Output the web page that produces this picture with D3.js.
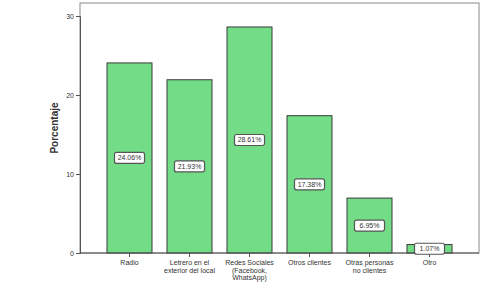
<!DOCTYPE html>
<html>
<head>
<meta charset="UTF-8">
<script src="https://cdn.jsdelivr.net/npm/d3@7"></script>
<style>
  body { margin: 0; background: #fff; }
  text { font-family: "Liberation Sans", Arial, sans-serif; fill: #333; }
</style>
</head>
<body>
<script>
// data
var categories = ["Radio", "Letrero en el|exterior del local", "Redes Sociales|(Facebook,|WhatsApp)",
                  "Otros clientes", "Otras personas|no clientes", "Otro"];
var values = [24.06, 21.93, 28.61, 17.38, 6.95, 1.07];
var valueLabels = ["24.06%", "21.93%", "28.61%", "17.38%", "6.95%", "1.07%"];
var yTicks = [0, 10, 20, 30];

var W = 501, H = 288;
var frame = {left: 80, right: 479, top: 3, bottom: 253};

var svg = d3.select("body").append("svg")
    .attr("width", W)
    .attr("height", H);

var y = d3.scaleLinear()
    .domain([0, 30])
    .range([253, 16]);

var x = d3.scaleBand()
    .domain(categories)
    .range([99.5, 459.5])
    .paddingInner(0.25)
    .paddingOuter(0.125);

// plot frame
svg.append("rect")
    .attr("x", frame.left)
    .attr("y", frame.top)
    .attr("width", frame.right - frame.left)
    .attr("height", frame.bottom - frame.top)
    .attr("fill", "#fff")
    .attr("stroke", "#888")
    .attr("stroke-width", 1);

// bars
svg.selectAll("rect.bar")
    .data(values)
    .enter().append("rect")
    .attr("class", "bar")
    .attr("x", function (d, i) { return x(categories[i]); })
    .attr("y", function (d) { return y(d); })
    .attr("width", x.bandwidth())
    .attr("height", function (d) { return y(0) - y(d); })
    .attr("fill", "#72dc86")
    .attr("stroke", "#3a3a3a")
    .attr("stroke-width", 1);

// y axis
var yAxis = d3.axisLeft(y).tickValues(yTicks).tickSize(4).tickPadding(2);
var gy = svg.append("g")
    .attr("transform", "translate(" + frame.left + ",0)")
    .call(yAxis);
gy.select(".domain").attr("stroke", "#555");
gy.selectAll(".tick line").attr("stroke", "#555");
gy.selectAll(".tick text").style("font-size", "7px").attr("fill", "#444");

// x axis
var xAxis = d3.axisBottom(x).tickSize(4).tickFormat("");
var gx = svg.append("g")
    .attr("transform", "translate(0," + frame.bottom + ")")
    .call(xAxis);
gx.select(".domain").attr("stroke", "#555").attr("d", "M" + frame.left + ",0H" + frame.right);
gx.selectAll(".tick line").attr("stroke", "#555");

// multi-line category labels
gx.selectAll(".tick").each(function (d) {
  var lines = d.split("|");
  var t = d3.select(this).append("text")
      .attr("text-anchor", "middle")
      .style("font-size", "7px")
      .attr("fill", "#333");
  lines.forEach(function (ln, k) {
    t.append("tspan").attr("x", 0).attr("y", 12 + k * 7.5).text(ln);
  });
});

// value label boxes
var lab = svg.selectAll("g.vlab")
    .data(values)
    .enter().append("g")
    .attr("class", "vlab")
    .attr("transform", function (d, i) {
      return "translate(" + (x(categories[i]) + x.bandwidth() / 2) + "," + y(d / 2) + ")";
    });

lab.append("rect")
    .attr("x", -15)
    .attr("y", -5.5)
    .attr("width", 30)
    .attr("height", 11)
    .attr("rx", 2)
    .attr("fill", "#fff")
    .attr("stroke", "#555")
    .attr("stroke-width", 1.2);

lab.append("text")
    .attr("text-anchor", "middle")
    .attr("dy", "0.35em")
    .style("font-size", "7px")
    .text(function (d, i) { return valueLabels[i]; });

// y axis title
svg.append("text")
    .attr("transform", "translate(58,128) rotate(-90)")
    .attr("text-anchor", "middle")
    .style("font-size", "10px")
    .style("font-weight", "bold")
    .attr("fill", "#222")
    .text("Porcentaje");
</script>
</body>
</html>
